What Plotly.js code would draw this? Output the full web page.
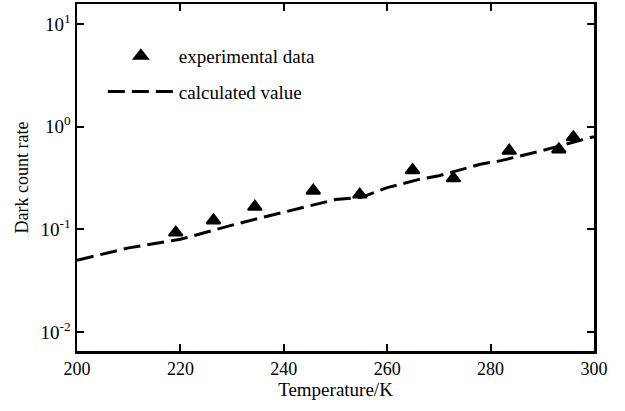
<!DOCTYPE html>
<html>
<head>
<meta charset="utf-8">
<script src="https://cdn.plot.ly/plotly-3.0.1.min.js"></script>
<style>html,body{margin:0;padding:0;background:#fff;}#chart{width:625px;height:411px;}</style>
</head>
<body>
<div id="chart"></div>
<script>
// Experimental data (triangles)
var expTemp = [219.1, 226.4, 234.4, 245.7, 254.7, 264.9, 272.8, 283.6, 293.2, 296.0];
var expRate = [0.093, 0.122, 0.166, 0.238, 0.218, 0.377, 0.314, 0.583, 0.600, 0.787];
// Calculated curve (dashed)
var calcTemp = [200, 210, 220, 230, 237, 245, 250, 255, 260, 266, 270, 278, 282, 290, 300];
var calcRate = [0.050, 0.066, 0.080, 0.110, 0.135, 0.168, 0.195, 0.205, 0.255, 0.305, 0.333, 0.430, 0.467, 0.585, 0.800];
var xTicks = [200, 220, 240, 260, 280, 300];
var yTicks = [0.01, 0.1, 1, 10];
var yTickText = ['10<sup>-2</sup>', '10<sup>-1</sup>', '10<sup>0</sup>', '10<sup>1</sup>'];

var FONT = '"Liberation Serif", "Times New Roman", serif';

var traces = [
  {
    x: expTemp, y: expRate, type: 'scatter', mode: 'markers',
    name: 'experimental data', legendgroup: 'a',
    marker: {symbol: 'triangle-up', size: 12, color: '#000', line: {color: '#000', width: 2}}
  },
  {
    x: calcTemp, y: calcRate, type: 'scatter', mode: 'lines',
    name: 'calculated value', legendgroup: 'b',
    line: {color: '#000', width: 3, dash: '17px,7px'}
  }
];

var layout = {
  width: 625, height: 411,
  margin: {l: 77, r: 31, t: 4, b: 60},
  paper_bgcolor: '#fff', plot_bgcolor: '#fff',
  font: {family: FONT, color: '#000', size: 19},
  showlegend: true,
  legend: {
    x: 0.05, y: 0.905, xanchor: 'left', yanchor: 'top',
    bgcolor: 'rgba(0,0,0,0)', borderwidth: 0,
    font: {family: FONT, size: 19, color: '#000'},
    itemwidth: 66, tracegroupgap: 8
  },
  xaxis: {
    range: [200, 300], tickvals: xTicks, ticktext: xTicks.map(String),
    ticks: 'inside', ticklen: 7, tickwidth: 2, tickcolor: '#000',
    showline: true, linewidth: 2.5, linecolor: '#000', mirror: 'ticks',
    showgrid: false, zeroline: false,
    tickfont: {family: FONT, size: 18, color: '#000'},
    title: {text: 'Temperature/K', font: {family: FONT, size: 19, color: '#000'}, standoff: 4}
  },
  yaxis: {
    type: 'log', range: [-2.185, 1.195], tickvals: yTicks, ticktext: yTickText,
    ticks: 'inside', ticklen: 7, tickwidth: 2, tickcolor: '#000',
    showline: true, linewidth: 2.5, linecolor: '#000', mirror: 'ticks',
    showgrid: false, zeroline: false,
    tickfont: {family: FONT, size: 19, color: '#000'},
    title: {text: 'Dark count rate', font: {family: FONT, size: 18, color: '#000'}, standoff: 8}
  }
};

Plotly.newPlot('chart', traces, layout, {displayModeBar: false, staticPlot: true});
</script>
</body>
</html>
